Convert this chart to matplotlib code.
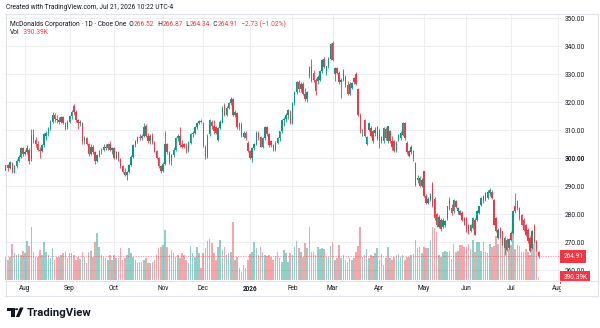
import numpy as np
import pandas as pd
import matplotlib
matplotlib.use("Agg")
import matplotlib.pyplot as plt
from matplotlib.patches import Rectangle, Circle, Polygon
from matplotlib.lines import Line2D
from matplotlib import transforms

plt.rcParams['font.family'] = ['Roboto', 'DejaVu Sans']

# ---------------- data ----------------
start_date = "2025-07-21"
market_holidays = ["2025-09-01", "2025-11-27", "2025-12-25", "2026-01-01", "2026-01-19",
                   "2026-02-16", "2026-04-03", "2026-05-25", "2026-06-19", "2026-07-03"]
month_labels = ["Aug", "Sep", "Oct", "Nov", "Dec", "2026", "Feb", "Mar", "Apr", "May", "Jun", "Jul", "Aug"]
price_ticks = [260, 270, 280, 290, 300, 310, 320, 330, 340, 350]

opens = [
    295.5, 297.5, 296.5, 298.0, 295.0, 297.0, 299.0, 300.5, 303.5, 301.5,
    302.0, 303.0, 299.5, 308.5, 306.5, 305.0, 303.0, 302.5, 304.5, 308.0,
    309.0, 310.5, 313.0, 315.5, 314.0, 313.5, 313.0, 314.5, 312.5, 311.0,
    313.0, 315.0, 318.5, 316.5, 313.5, 312.5, 312.5, 306.0, 307.0, 305.0,
    301.5, 304.0, 302.0, 299.0, 301.0, 302.5, 303.0, 304.0, 303.5, 305.0,
    303.0, 303.5, 300.0, 302.0, 299.5, 297.0, 295.0, 294.0, 295.0, 297.5,
    300.5, 304.5, 306.0, 307.5, 307.0, 308.0, 311.5, 308.0, 306.0, 308.0,
    305.5, 302.5, 300.0, 297.0, 295.5, 298.0, 305.0, 302.0, 299.0, 301.0,
    303.0, 307.0, 308.0, 304.5, 305.0, 303.8, 302.5, 305.5, 308.5, 309.0,
    311.0, 312.5, 313.3, 312.5, 304.0, 300.5, 308.5, 313.0, 311.5, 311.0,
    306.5, 310.7, 313.0, 318.5, 315.5, 318.0, 319.5, 321.0, 315.5, 316.0,
    311.0, 312.0, 307.5, 309.0, 305.5, 302.5, 300.0, 303.5, 305.0, 309.0,
    307.5, 304.0, 307.0, 311.0, 308.5, 306.0, 304.5, 303.0, 305.5, 307.0,
    309.5, 313.5, 314.0, 315.5, 316.5, 312.5, 319.5, 323.5, 327.0, 324.5,
    326.5, 323.0, 321.0, 329.2, 332.7, 330.5, 327.8, 327.4, 328.0, 331.0,
    335.5, 330.5, 332.7, 335.5, 341.0, 330.0, 332.0, 330.5, 327.0, 328.0,
    329.0, 326.0, 323.0, 325.0, 328.5, 330.0, 324.5, 315.5, 309.5, 313.5,
    305.0, 310.0, 310.7, 309.5, 309.0, 307.0, 310.0, 306.0, 306.0, 310.5,
    306.0, 309.5, 306.0, 306.0, 302.5, 306.5, 307.0, 308.3, 312.5, 305.5,
    302.5, 302.0, 302.4, 298.2, 292.0, 293.0, 290.0, 295.2, 286.3, 284.0,
    285.0, 291.0, 285.5, 280.0, 275.5, 278.0, 275.5, 276.0, 278.5, 285.0,
    282.0, 281.0, 284.5, 281.0, 281.0, 280.4, 278.5, 278.6, 276.2, 274.0,
    275.0, 278.0, 278.0, 280.4, 283.3, 284.5, 285.0, 285.7, 287.5, 288.0,
    285.0, 278.6, 271.4, 275.0, 273.8, 268.0, 270.8, 268.0, 273.2, 273.2,
    282.7, 284.5, 282.0, 279.8, 278.0, 276.2, 274.4, 271.4, 267.9, 275.6,
    270.2, 266.52]

highs = [
    298.5, 298.0, 299.0, 298.5, 297.5, 299.5, 301.0, 304.0, 304.0, 303.0,
    304.5, 303.5, 310.5, 310.5, 307.5, 306.0, 304.0, 305.0, 309.0, 309.5,
    311.0, 313.5, 316.5, 316.0, 315.5, 314.5, 315.0, 315.0, 313.0, 313.5,
    315.5, 317.0, 319.3, 317.0, 314.0, 313.5, 313.0, 308.0, 307.5, 305.5,
    305.0, 304.5, 302.5, 301.5, 303.0, 303.5, 305.0, 305.0, 305.5, 306.0,
    304.0, 304.0, 302.5, 302.5, 300.0, 297.5, 296.5, 295.5, 298.0, 301.0,
    305.0, 306.5, 308.0, 308.5, 308.5, 312.5, 312.0, 309.0, 308.5, 309.0,
    306.0, 303.0, 300.5, 297.5, 298.5, 309.5, 305.5, 302.5, 301.5, 304.0,
    307.5, 308.5, 311.0, 306.5, 305.5, 305.5, 306.0, 309.0, 309.5, 311.5,
    313.0, 313.5, 313.8, 313.0, 304.5, 308.5, 313.8, 313.5, 313.5, 311.5,
    311.0, 313.5, 318.5, 319.5, 318.5, 320.0, 321.8, 321.5, 317.0, 316.5,
    313.0, 312.8, 309.5, 309.5, 306.0, 303.0, 304.0, 305.5, 309.5, 309.5,
    308.0, 307.5, 311.5, 311.5, 309.0, 306.5, 305.0, 306.0, 307.5, 309.8,
    314.0, 314.5, 316.0, 317.5, 317.0, 320.0, 324.0, 327.5, 328.0, 327.0,
    327.0, 325.0, 324.0, 333.0, 335.5, 331.5, 328.5, 329.5, 331.5, 335.5,
    336.0, 333.0, 336.0, 341.2, 341.7, 332.5, 332.5, 331.2, 328.5, 331.8,
    329.5, 327.5, 327.0, 327.0, 329.0, 330.8, 325.0, 316.0, 310.5, 314.0,
    308.0, 312.8, 311.5, 310.0, 311.0, 311.5, 310.5, 308.0, 311.0, 311.0,
    311.5, 310.0, 308.0, 306.5, 306.0, 308.5, 309.5, 313.0, 313.0, 306.0,
    303.0, 304.5, 303.0, 298.5, 294.0, 293.5, 292.8, 295.5, 287.0, 286.0,
    287.5, 291.5, 286.0, 280.5, 279.5, 278.5, 278.5, 278.0, 283.0, 286.0,
    283.5, 285.5, 285.0, 282.5, 281.5, 281.0, 279.0, 279.0, 276.5, 276.5,
    279.0, 278.5, 281.5, 283.0, 286.0, 286.8, 287.8, 288.5, 289.3, 288.5,
    285.5, 279.0, 275.0, 275.5, 274.0, 272.0, 271.5, 271.5, 273.8, 281.5,
    287.5, 285.0, 282.5, 280.0, 278.5, 276.5, 275.0, 272.0, 274.2, 276.3,
    270.8, 266.87]

lows = [
    295.0, 295.5, 296.0, 294.5, 294.8, 296.5, 298.5, 300.0, 300.8, 301.0,
    301.5, 298.0, 299.0, 305.5, 304.0, 302.5, 300.0, 302.0, 304.0, 306.5,
    308.0, 310.0, 312.5, 313.0, 312.5, 312.0, 312.5, 312.0, 310.0, 310.5,
    312.5, 314.0, 315.5, 313.0, 310.5, 311.5, 305.0, 305.0, 304.5, 300.8,
    301.0, 301.5, 298.0, 298.5, 300.5, 301.5, 302.5, 302.8, 303.0, 302.5,
    301.5, 299.5, 299.5, 299.0, 296.5, 294.5, 293.5, 292.3, 294.5, 297.0,
    300.0, 304.0, 305.5, 306.5, 306.5, 307.5, 307.5, 305.5, 305.0, 305.0,
    302.0, 299.5, 296.5, 294.5, 295.0, 297.5, 301.5, 298.0, 297.5, 300.5,
    302.5, 306.0, 304.0, 303.5, 303.5, 301.8, 302.0, 305.0, 307.5, 308.5,
    310.5, 312.0, 312.5, 303.8, 299.5, 300.0, 308.0, 310.5, 308.5, 308.5,
    306.0, 310.5, 312.5, 315.0, 315.0, 317.5, 319.0, 315.0, 314.5, 310.5,
    310.0, 307.5, 307.0, 306.5, 302.0, 299.5, 298.6, 303.0, 304.5, 306.5,
    303.8, 303.5, 306.5, 308.0, 303.8, 303.8, 302.5, 302.5, 305.0, 306.0,
    309.0, 311.5, 313.0, 314.0, 312.0, 312.0, 319.0, 323.0, 323.5, 323.5,
    322.5, 320.5, 320.0, 328.5, 327.0, 327.0, 322.5, 326.5, 327.5, 330.5,
    332.0, 329.5, 332.0, 335.0, 334.5, 327.5, 330.0, 326.5, 321.5, 327.5,
    325.5, 322.5, 322.5, 324.5, 326.5, 326.0, 315.0, 309.0, 308.0, 307.5,
    304.5, 309.5, 307.5, 305.5, 308.0, 306.5, 303.5, 305.5, 305.5, 306.5,
    305.5, 305.5, 303.0, 302.0, 302.0, 306.0, 306.5, 308.0, 306.5, 301.5,
    300.3, 301.5, 299.0, 290.0, 291.0, 289.5, 289.5, 286.0, 283.5, 283.5,
    284.5, 282.5, 278.0, 275.5, 275.0, 274.0, 275.0, 275.5, 278.0, 281.5,
    279.5, 280.5, 282.0, 280.0, 279.5, 277.5, 276.0, 273.5, 272.8, 273.5,
    274.5, 272.5, 277.5, 280.0, 283.0, 284.0, 284.5, 285.5, 286.5, 285.5,
    276.0, 273.5, 271.0, 271.5, 268.5, 265.5, 266.8, 267.5, 270.5, 273.0,
    280.5, 281.5, 278.0, 276.0, 274.0, 272.0, 269.8, 266.3, 267.5, 269.8,
    266.8, 264.34]

closes = [
    297.5, 296.5, 298.5, 295.0, 297.0, 299.0, 300.5, 303.5, 301.5, 302.0,
    303.5, 299.0, 308.0, 306.5, 305.0, 303.0, 302.5, 304.5, 308.5, 309.0,
    310.5, 313.0, 315.5, 314.0, 313.5, 313.0, 314.5, 312.5, 311.0, 313.0,
    315.0, 316.5, 316.5, 313.5, 312.5, 313.0, 306.0, 307.0, 305.0, 301.5,
    304.0, 302.0, 299.0, 301.0, 302.5, 303.0, 304.0, 303.5, 305.0, 303.0,
    303.5, 300.0, 302.0, 299.5, 297.0, 295.0, 294.0, 295.0, 297.5, 300.5,
    304.5, 306.0, 307.5, 307.0, 308.0, 311.0, 308.0, 306.0, 308.0, 305.5,
    302.5, 300.0, 297.0, 295.5, 298.0, 305.0, 302.0, 299.0, 301.0, 303.0,
    307.0, 308.0, 304.5, 304.0, 303.8, 302.5, 305.5, 308.5, 309.0, 311.0,
    312.5, 313.3, 312.8, 304.5, 300.5, 308.0, 313.5, 311.5, 309.5, 309.0,
    310.7, 313.0, 318.0, 315.5, 318.0, 319.5, 321.0, 315.5, 316.5, 311.0,
    312.0, 308.0, 309.0, 307.0, 302.5, 300.0, 303.5, 305.0, 309.0, 307.0,
    304.0, 307.0, 311.0, 308.5, 304.5, 304.5, 303.0, 305.5, 307.0, 309.5,
    313.5, 314.0, 315.5, 317.0, 312.5, 319.5, 323.5, 327.0, 324.5, 326.5,
    323.0, 321.0, 323.5, 332.5, 327.5, 327.8, 324.0, 329.0, 331.0, 335.0,
    332.5, 332.7, 335.5, 340.8, 335.0, 332.0, 330.5, 327.0, 328.0, 331.0,
    326.0, 323.0, 326.5, 326.8, 327.0, 326.5, 315.5, 309.5, 310.0, 308.0,
    307.5, 312.5, 308.0, 306.0, 310.0, 311.0, 306.0, 307.5, 310.7, 307.0,
    311.3, 306.0, 304.0, 302.5, 305.5, 308.3, 309.0, 312.5, 307.0, 302.0,
    300.6, 304.0, 299.5, 290.5, 293.0, 290.0, 292.0, 286.3, 284.0, 285.5,
    287.0, 283.0, 278.5, 276.2, 279.0, 274.5, 278.0, 277.5, 282.7, 282.0,
    280.5, 285.0, 282.5, 282.0, 279.8, 278.0, 276.2, 273.8, 273.2, 276.0,
    278.6, 272.6, 281.0, 282.7, 285.7, 286.3, 287.5, 288.0, 288.5, 285.7,
    276.2, 273.8, 274.4, 272.0, 269.0, 271.4, 267.3, 271.0, 270.8, 281.0,
    281.0, 282.1, 278.6, 276.2, 274.4, 272.6, 270.2, 266.7, 273.8, 270.2,
    267.64, 264.91]

volumes_m = [
    3.59, 3.08, 3.59, 5.49, 4.10, 3.85, 3.95, 3.85, 4.51, 4.21,
    6.00, 5.28, 8.10, 4.36, 3.59, 3.59, 4.62, 3.85, 5.90, 4.36,
    3.85, 3.33, 4.87, 3.08, 3.59, 3.59, 3.85, 4.10, 4.36, 3.33,
    4.10, 4.10, 3.85, 3.08, 3.59, 3.23, 4.36, 3.59, 2.56, 4.36,
    4.51, 3.59, 5.90, 7.18, 5.13, 3.85, 3.59, 3.33, 3.08, 3.85,
    3.08, 3.85, 3.33, 3.33, 4.87, 3.08, 3.33, 3.85, 4.97, 4.10,
    3.59, 3.08, 2.56, 2.72, 2.82, 3.08, 3.33, 2.56, 2.56, 2.72,
    3.08, 3.85, 4.87, 5.13, 5.38, 7.69, 5.13, 3.85, 4.62, 4.10,
    3.59, 3.85, 3.33, 4.10, 3.85, 3.08, 2.56, 5.28, 4.10, 3.59,
    5.13, 4.10, 1.79, 4.10, 4.97, 6.00, 6.31, 5.64, 4.10, 3.08,
    5.13, 6.15, 4.62, 5.13, 3.85, 4.10, 4.36, 8.97, 3.08, 3.59,
    1.79, 1.28, 2.31, 1.79, 3.08, 3.95, 4.36, 5.79, 4.87, 3.85,
    5.13, 4.26, 3.85, 3.74, 3.85, 3.59, 3.08, 3.74, 4.36, 3.33,
    2.72, 4.62, 4.10, 2.82, 4.10, 3.85, 5.13, 6.00, 4.87, 4.36,
    3.59, 5.64, 4.87, 8.10, 4.36, 4.36, 3.85, 5.13, 4.77, 4.87,
    4.77, 3.59, 3.59, 5.28, 5.79, 3.08, 3.33, 5.38, 3.33, 3.85,
    3.08, 2.82, 3.33, 3.08, 3.33, 4.36, 5.20, 8.10, 3.59, 3.85,
    4.77, 3.44, 3.85, 3.74, 4.10, 4.87, 3.08, 3.95, 2.31, 3.33,
    5.13, 3.33, 3.08, 3.59, 3.85, 3.95, 3.59, 3.85, 3.08, 3.59,
    3.59, 3.85, 3.95, 6.15, 4.87, 5.13, 4.10, 5.13, 4.87, 4.87,
    6.15, 8.20, 7.95, 7.44, 3.90, 3.60, 4.30, 4.40, 4.30, 4.50,
    3.20, 5.60, 4.30, 4.50, 5.40, 5.40, 5.00, 5.00, 5.60, 4.80,
    6.10, 4.30, 5.90, 5.90, 4.50, 5.90, 4.30, 4.10, 5.60, 5.00,
    5.20, 6.80, 5.60, 7.40, 5.00, 6.10, 5.60, 4.70, 5.40, 7.20,
    4.70, 5.40, 5.20, 4.30, 4.30, 4.70, 4.30, 3.80, 6.50, 5.60,
    5.60, 0.39039]

# ---------------- styling constants ----------------
UP = "#089981"
DN = "#F23645"
TXT = "#131722"
GRID = "#eceef2"
BORDER = "#e0e3eb"
W, H = 600, 328
X0_PX, STEP_PX = 5.9, 2.122            # pixel position of first candle, px per bar
PANE = dict(left=5, top=14, right=561, bottom=280)
Y_BOTTOM, Y_TOP = 256.43, 351.43         # price range of the pane
VOL_TOP = 40.9                            # volume value reaching pane top

O = np.array(opens); Hh = np.array(highs); L = np.array(lows); C = np.array(closes)
V = np.array(volumes_m)
N = len(C)
idx = np.arange(N)

hol = pd.to_datetime(market_holidays)
all_days = pd.bdate_range(start_date, "2026-08-14", freq="C", holidays=hol)
month_start = [i for i in range(1, len(all_days)) if all_days[i].month != all_days[i - 1].month]
month_start = month_start[:len(month_labels)]

fig = plt.figure(figsize=(W / 100, H / 100), dpi=100)
fig.patch.set_facecolor("white")


def frect(l, t, r, b):
    return [l / W, 1 - b / H, (r - l) / W, (b - t) / H]


ax = fig.add_axes(frect(PANE["left"], PANE["top"], PANE["right"], PANE["bottom"]))
ax.set_xlim((PANE["left"] - X0_PX) / STEP_PX, (PANE["right"] - X0_PX) / STEP_PX)
ax.set_ylim(Y_BOTTOM, Y_TOP)
for s in ax.spines.values():
    s.set_visible(False)
ax.set_axisbelow(True)
ax.grid(True, color=GRID, lw=0.8)

# price axis on the right
ax.yaxis.tick_right()
ax.set_yticks(price_ticks)
ax.set_yticklabels([f"{v:.2f}" for v in price_ticks])
ax.tick_params(axis="y", length=0, pad=2.9, labelsize=4.7, labelcolor=TXT)
for lbl in ax.get_yticklabels():
    if lbl.get_text() == "300.00":
        lbl.set_fontweight("bold")

# time axis
ax.set_xticks(month_start)
ax.set_xticklabels(month_labels)
ax.tick_params(axis="x", length=0, pad=3.6, labelsize=4.7, labelcolor=TXT)
for lbl in ax.get_xticklabels():
    if lbl.get_text() == "2026":
        lbl.set_fontweight("bold")

# volume (behind candles)
axv = ax.inset_axes([0, 0, 1, 1], zorder=1)
axv.set_xlim(ax.get_xlim())
axv.set_ylim(0, VOL_TOP)
axv.set_axis_off()
axv.patch.set_visible(False)
up = C >= O
vcol = np.where(up, UP, DN)
axv.bar(idx, V, width=0.74, color=vcol, alpha=0.45, linewidth=0)

# candles
ax.vlines(idx, L, Hh, colors=vcol, lw=0.6, zorder=3)
ax.bar(idx, np.maximum(np.abs(C - O), 0.15), bottom=np.minimum(O, C), width=0.7,
       color=vcol, linewidth=0, zorder=4)

# last price line and labels
ax.axhline(C[-1], color=DN, lw=0.6, ls=(0, (1.5, 1.5)), alpha=0.6, zorder=2.5)
ax.annotate(f"{C[-1]:.2f}", xy=(1, C[-1]), xycoords=ax.get_yaxis_transform(),
            xytext=(1.7, 0), textcoords="offset points", ha="left", va="center",
            fontsize=4.7, color="white", annotation_clip=False, zorder=10,
            bbox=dict(boxstyle="square,pad=0.45", fc=DN, ec="none"))
vol_tr = transforms.blended_transform_factory(ax.transAxes, axv.transData)
ax.annotate(f"{V[-1] * 1000:.2f}K", xy=(1, V[-1]), xycoords=vol_tr,
            xytext=(1.7, 0), textcoords="offset points", ha="left", va="center",
            fontsize=4.7, color="white", annotation_clip=False, zorder=10,
            bbox=dict(boxstyle="square,pad=0.45", fc=DN, ec="none"))

# frame lines
def fline(x1, y1, x2, y2):
    fig.add_artist(Line2D([x1 / W, x2 / W], [1 - y1 / H, 1 - y2 / H], color=BORDER, lw=0.8,
                          transform=fig.transFigure, zorder=20))

# cover Aug 2026 label beyond the pane edge
fig.add_artist(Rectangle((PANE["right"] / W, 1 - 295 / H), (597 - PANE["right"]) / W, 14 / H,
                         transform=fig.transFigure, fc="white", ec="none", zorder=15))
fline(5, 13.5, 598, 13.5)
fline(5.5, 13.5, 5.5, 295.5)
fline(597.5, 13.5, 597.5, 295.5)
fline(5, 295.5, 598, 295.5)
fline(5, 280.5, 598, 280.5)

# header texts
renderer = fig.canvas.get_renderer()


def rich(x_px, y_px, parts, size):
    x = x_px
    for s, col in parts:
        t = fig.text(x / W, 1 - y_px / H, s, color=col, fontsize=size, ha="left", va="center")
        bb = t.get_window_extent(renderer=renderer)
        x = bb.x1


fig.text(6 / W, 1 - 7.5 / H, "Created with TradingView.com, Jul 21, 2026 10:22 UTC-4",
         fontsize=4.75, color=TXT, ha="left", va="center")
chg = C[-1] - C[-2]
pct = chg / C[-2] * 100
rich(10, 24.5, [("McDonalds Corporation · 1D · Cboe One", TXT),
                ("  O", TXT), (f"{O[-1]:.2f}", DN),
                ("  H", TXT), (f"{Hh[-1]:.2f}", DN),
                ("  L", TXT), (f"{L[-1]:.2f}", DN),
                ("  C", TXT), (f"{C[-1]:.2f}", DN),
                (f"  {chg:+.2f} ({pct:+.2f}%)".replace("-", "\u2212"), DN)], 4.75)
rich(10, 33, [("Vol", TXT), (f"  {V[-1] * 1000:.2f}K", DN)], 4.75)

# TradingView logo
def fp(x, y):
    return (x / W, 1 - y / H)

fig.add_artist(Polygon([fp(7, 307.5), fp(14.5, 307.5), fp(14.5, 317), fp(11.3, 317),
                        fp(11.3, 310.5), fp(7, 310.5)], closed=True,
                       transform=fig.transFigure, fc=TXT, ec="none"))
fig.add_artist(Circle(fp(16.6, 309.2), 1.7 / W, transform=fig.transFigure, fc=TXT, ec="none"))
fig.add_artist(Polygon([fp(15.8, 317), fp(19.4, 317), fp(23.6, 307.5), fp(20.0, 307.5)],
                       closed=True, transform=fig.transFigure, fc=TXT, ec="none"))
fig.text(26.5 / W, 1 - 312.5 / H, "TradingView", fontsize=8.2, fontweight="bold",
         color=TXT, ha="left", va="center")

fig.savefig("out.png", dpi=100)
